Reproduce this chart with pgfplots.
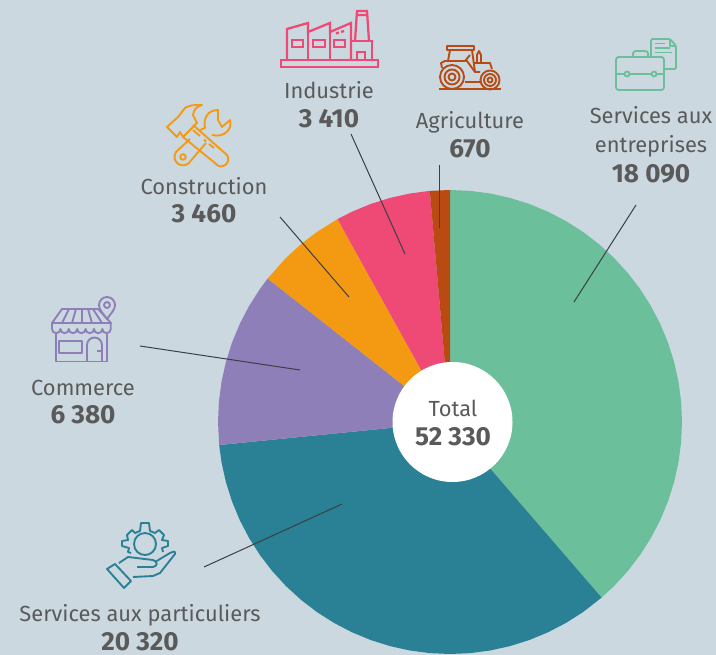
\documentclass[border=0pt]{standalone}
\usepackage{pgfplots}
\pgfplotsset{compat=1.18}
\usepackage{fontspec}
\setmainfont{Fira Sans}
\definecolor{bgc}{HTML}{CBD8E0}
\definecolor{cg}{HTML}{6CBF9B}
\definecolor{ct}{HTML}{2A8094}
\definecolor{cp}{HTML}{8F7FB8}
\definecolor{co}{HTML}{F49A12}
\definecolor{cr}{HTML}{EE4A75}
\definecolor{cb}{HTML}{B84A12}
\definecolor{txt}{HTML}{5A5A5A}
\definecolor{ldr}{HTML}{3A4045}
\newcommand{\lab}[3]{\node[anchor=base,text=txt,inner sep=0pt,font=\fontsize{16.4}{18}\selectfont] at (#1,#2) {#3};}
\newcommand{\num}[3]{\node[anchor=base,text=txt,inner sep=0pt,font=\fontsize{19.6}{22}\selectfont\bfseries] at (#1,#2) {#3};}
\begin{document}
\begin{tikzpicture}[x=0.75pt,y=-0.75pt]
\path[use as bounding box] (0,0) rectangle (716,655);
\fill[bgc] (0,0) rectangle (716,655);
\begin{axis}[at={(0,0)},anchor=north west,scale only axis,width=537pt,height=491.25pt,
  xmin=-450,xmax=266,ymin=-233,ymax=422,hide axis,clip=false]
% sectors (angle, radius)
\addplot[data cs=polar,fill=cg,draw=none,no markers] coordinates {(0,0)(90,232)(85,232)(80,232)(75,232)(70,232)(65,232)(60,232)(55,232)(50,232)(45,232)(40,232)(35,232)(30,232)(25,232)(20,232)(15,232)(10,232)(5,232)(0,232)(-5,232)(-10,232)(-15,232)(-20,232)(-25,232)(-30,232)(-35,232)(-40,232)(-45,232)(-49.2,232)} --cycle;
\addplot[data cs=polar,fill=ct,draw=none,no markers] coordinates {(0,0)(-49.2,232)(-55,232)(-60,232)(-65,232)(-70,232)(-75,232)(-80,232)(-85,232)(-90,232)(-95,232)(-100,232)(-105,232)(-110,232)(-115,232)(-120,232)(-125,232)(-130,232)(-135,232)(-140,232)(-145,232)(-150,232)(-155,232)(-160,232)(-165,232)(-170,232)(-174.3,232)} --cycle;
\addplot[data cs=polar,fill=cp,draw=none,no markers] coordinates {(0,0)(185.7,232)(180,232)(175,232)(170,232)(165,232)(160,232)(155,232)(150,232)(145,232)(141.8,232)} --cycle;
\addplot[data cs=polar,fill=co,draw=none,no markers] coordinates {(0,0)(141.8,232)(135,232)(130,232)(125,232)(119,232)} --cycle;
\addplot[data cs=polar,fill=cr,draw=none,no markers] coordinates {(0,0)(119,232)(115,232)(110,232)(105,232)(100,232)(95,232)} --cycle;
\addplot[data cs=polar,fill=cb,draw=none,no markers] coordinates {(0,0)(95,232)(90,232)} --cycle;
% leader lines
\addplot[ldr,line width=0.75pt,no markers] coordinates {(186,217)(124,120)};
\addplot[ldr,line width=0.75pt,no markers] coordinates {(-11,257)(-11,194)};
\addplot[ldr,line width=0.75pt,no markers] coordinates {(-99,288)(-45,168)};
\addplot[ldr,line width=0.75pt,no markers] coordinates {(-170,205)(-101,125)};
\addplot[ldr,line width=0.75pt,no markers] coordinates {(-310,76)(-150,52)};
\addplot[ldr,line width=0.75pt,no markers] coordinates {(-246,-145)(-108,-82)};
\end{axis}
\fill[white] (452.5,422) circle[radius=60];
% labels
\lab{453}{416}{Total}\num{453}{445.5}{52 330}
\lab{329}{98.5}{Industrie}\num{329}{127.5}{3 410}
\lab{470}{128.5}{Agriculture}\num{470}{157.5}{670}
\lab{651}{124}{Services aux}\lab{651}{153}{entreprises}\num{651}{182.5}{18 090}
\lab{204}{194.5}{Construction}\num{204}{222.5}{3 460}
\lab{83}{395}{Commerce}\num{83}{423.5}{6 380}
\lab{140}{621}{Services aux particuliers}\num{140}{650}{20 320}
% factory
\begin{scope}[cr,line width=1.7pt,line join=miter]
\draw (281,60) rectangle (378,67);
\draw (287,60)--(287,29)--(308,23)--(308,32)--(330,23)--(330,32)--(351,23)--(351,60);
\draw (308,32)--(308,60) (330,32)--(330,60);
\draw (355,41)--(357,11)--(367,11)--(369,41) (357,15)--(367,15);
\draw (351,41)--(372,41)--(372,60);
\draw (357,60)--(357,52)--(365,52)--(365,60);
\draw (292,40) rectangle (303,47) (313,40) rectangle (325,47) (334,40) rectangle (345,47);
\draw (336,33.5)--(339,32.5) (341,32)--(344,31);
\end{scope}
% tractor
\begin{scope}[cb,line width=1.4pt,line join=round]
\draw[line width=1.6pt] (439,89)--(501,89);
\draw (452,77) circle[radius=12] (452,77) circle[radius=7.5] (452,77) circle[radius=3.5];
\draw (490,80) circle[radius=9.5] (490,80) circle[radius=6] (490,80) circle[radius=2.5];
\draw (447,46) rectangle (474,50);
\draw (450,50)--(448,61) (472,50)--(475,72) (465,61)--(470,55);
\draw (442,68)--(441,63)--(445,61)--(467,61)--(475,72)--(480,72);
\draw (474,63)--(490,63)--(492,69);
\draw (477,63)--(477,55)--(479,51)--(481,55)--(481,63);
\draw (465,82)--(481,82);
\end{scope}
% briefcase
\begin{scope}[cg,line width=1.4pt,line join=round]
\draw[rounded corners=2pt] (616,57) rectangle (664,90);
\draw (616,74)--(624.5,74) (629.5,74)--(651.5,74) (656.5,74)--(664,74);
\draw (627,74) circle[radius=2.5] (654,74) circle[radius=2.5];
\draw[rounded corners=2pt] (633,57)--(633,51)--(648,51)--(648,57);
\draw[rounded corners=1pt] (651,57)--(651,39)--(670,39)--(676,46)--(676,69)--(664,69);
\draw (670,39)--(670,46)--(676,46);
\draw (655,43.5)--(665,43.5) (655,48)--(670,48) (655,52.5)--(672,52.5);
\end{scope}
% tools
\begin{scope}[co,line width=1.4pt,line join=round]
\draw (167,127)--(178,117)--(185,108)..controls (191,105)..(202,105)..controls (195,108)..(193,115)--(197,123)--(183,137)--(180,132)--(177,137)--cycle;
\draw (193,125)--(227,155) arc[start angle=-35,end angle=145,radius=7.2]--(183,137);
\draw (193,130)--(200,136) (204,139.5)--(206,141.5) (209,144)--(214,148);
\draw (190,139)--(176,152) arc[start angle=215,end angle=45,radius=8.5]--(206,143);
\draw (200,130)--(205,128)..controls (203,118) and (208,110)..(218,110)--(218,120)--(222,127)--(230,120)..controls (233,130) and (223,138)..(212,135);
\draw (183,157) circle[radius=2.8];
\end{scope}
% store
\begin{scope}[cp,line width=1.4pt,line join=round]
\draw (62,309)--(98,309)--(111,323)--(52,323)--cycle;
\draw (69,309)--(62,323) (76,309)--(72,323) (82,309)--(82,323) (88,309)--(92,323) (93,309)--(102,323);
\draw (52,323)--(52,329) arc[start angle=180,end angle=0,radius=4.2] arc[start angle=180,end angle=0,radius=4.2] arc[start angle=180,end angle=0,radius=4.2] arc[start angle=180,end angle=0,radius=4.2] arc[start angle=180,end angle=0,radius=4.2] arc[start angle=180,end angle=0,radius=4.2] arc[start angle=180,end angle=0,radius=4.2]--(110.8,323);
\draw (56,334)--(56,361.5)--(107,361.5)--(107,334);
\draw (59,341) rectangle (82,353);
\draw (87,361.5)--(87,345) arc[start angle=180,end angle=360,radius=7.5]--(102,361.5);
\draw (97,351)--(102,351);
\fill[bgc] (107,319)..controls (103,313) and (99,310)..(99,305) arc[start angle=180,end angle=360,radius=8]..controls (115,310) and (111,313)..(107,319)--cycle;
\draw (107,319)..controls (103,313) and (99,310)..(99,305) arc[start angle=180,end angle=360,radius=8]..controls (115,310) and (111,313)..(107,319)--cycle;
\draw (107,305) circle[radius=3];
\end{scope}
% hand and gear
\begin{scope}[ct,line width=1.4pt,line join=round]
\draw (145,544) circle[radius=11];
\draw (107,569)--(115,564)--(131,581)--(124,588)--cycle;
\draw (119,563)--(128,557)--(153,560)..controls (158,562) and (158,566)..(153,567)--(137,567);
\draw (155,562)--(170,553)..controls (175,551)..(175,554)--(160,573)--(153,576)--(133,577);
\draw (131,553)--(128,552)--(129,548)--(122,546)--(122,541)--(128,540)--(127,535)--(132,530)--(135,533)--(140,531)--(141,523)--(149,523)--(150,531)--(155,533)--(159,530)--(164,535)--(162,540)--(168,541)--(168,546)--(162,548)--(163,552);
\end{scope}
\end{tikzpicture}
\end{document}
